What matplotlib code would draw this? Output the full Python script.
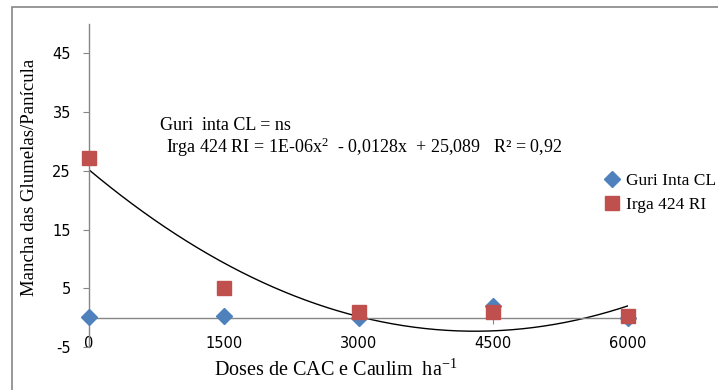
import numpy as np
import matplotlib
matplotlib.use("Agg")
import matplotlib.pyplot as plt
from matplotlib.patches import Rectangle

# doses (kg/ha) and glume spotting per panicle
doses = [0, 1500, 3000, 4500, 6000]
guri_inta = [0.1, 0.3, 0.0, 1.9, 0.0]
irga_424 = [27.2, 5.0, 1.0, 1.0, 0.25]
y_ticks = [-5, 5, 15, 25, 35, 45]

blue = "#4F81BD"
red = "#C0504D"
grey = "#868686"
serif = "Liberation Serif"

plt.rcParams["mathtext.fontset"] = "stix"
plt.rcParams["axes.unicode_minus"] = False

W, H = 718, 390
fig = plt.figure(figsize=(W / 100, H / 100), dpi=100)

# chart area border (runs off the right and bottom)
fig.patches.append(Rectangle((12 / W, -0.1), 1.2, 1 - 7 / H + 0.1,
                             transform=fig.transFigure, fill=False,
                             edgecolor=grey, linewidth=1.2))

ax = fig.add_axes([89 / W, (H - 347) / H, 539 / W, 323 / H])
ax.set_xlim(0, 6000)
ax.set_ylim(-5, 50)

# quadratic trend for Irga 424 RI
coef = np.polyfit(doses, irga_424, 2)
xs = np.linspace(0, 6000, 200)
ax.plot(xs, np.polyval(coef, xs), color="black", linewidth=1.0, zorder=2)

ax.plot(doses, guri_inta, linestyle="none", marker="D", markersize=8,
        color=blue, label="Guri Inta CL", zorder=3, clip_on=False)
ax.plot(doses, irga_424, linestyle="none", marker="s", markersize=9.5,
        color=red, label="Irga 424 RI", zorder=4, clip_on=False)

for s in ["top", "right"]:
    ax.spines[s].set_visible(False)
ax.spines["left"].set_color(grey)
ax.spines["bottom"].set_color(grey)
ax.spines["bottom"].set_position(("data", 0))
ax.spines["left"].set_linewidth(1.0)
ax.spines["bottom"].set_linewidth(1.0)

ax.set_yticks(y_ticks)
ax.set_xticks(doses)
ax.tick_params(axis="y", direction="out", length=4, color=grey,
               labelsize=10.5, pad=9)
ax.tick_params(axis="x", direction="out", length=4, color=grey,
               labelsize=10.5, pad=9)
for lab in ax.get_xticklabels() + ax.get_yticklabels():
    lab.set_family("DejaVu Sans")

fig.text(30 / W, 1 - 177 / H, "Mancha das Glumelas/Panícula", family=serif,
         fontsize=13.5, rotation=90, ha="center", va="center")
fig.text(336 / W, 1 - 370 / H,
         "Doses de CAC e Caulim  ha$^{\\mathregular{-1}}$",
         family=serif, fontsize=14.5, ha="center", va="center")

fig.text(160 / W, 1 - 125 / H, "Guri  inta CL = ns", family=serif,
         fontsize=13, va="center")
fig.text(166 / W, 1 - 147 / H,
         "Irga 424 RI = 1E-06x$^{\\mathregular{2}}$  - 0,0128x  + 25,089   R² = 0,92",
         family=serif, fontsize=13, va="center")

leg = ax.legend(loc="upper left", bbox_to_anchor=(605 / W, 1 - 173 / H),
                bbox_transform=fig.transFigure, frameon=False,
                prop={"family": serif, "size": 12.5}, handlelength=0.8,
                handletextpad=0.4, borderpad=0, labelspacing=0.45,
                borderaxespad=0)

fig.savefig("out.png", dpi=100)
